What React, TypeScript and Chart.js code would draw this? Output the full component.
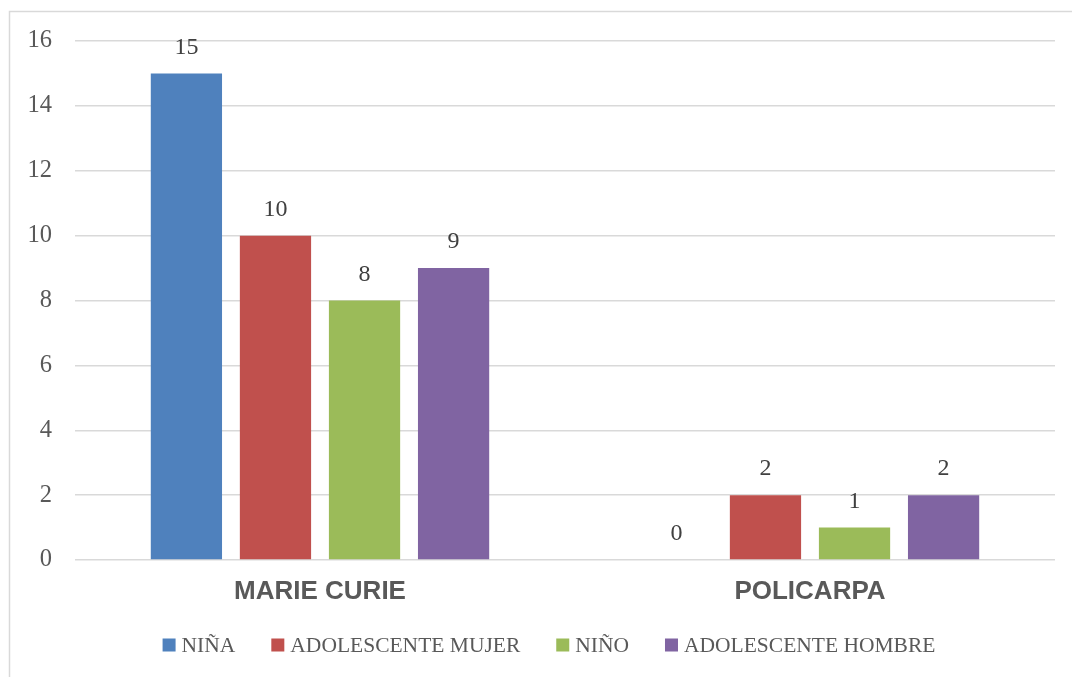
import React, { useEffect, useRef } from "react";
import { Chart, registerables } from "chart.js";

Chart.register(...registerables);

const categories = ["MARIE CURIE", "POLICARPA"];
const seriesNames = ["NIÑA", "ADOLESCENTE MUJER", "NIÑO", "ADOLESCENTE HOMBRE"];
const ninaValues = [15, 0];
const adolescenteMujerValues = [10, 2];
const ninoValues = [8, 1];
const adolescenteHombreValues = [9, 2];
const seriesColors = ["#4F81BD", "#C0504D", "#9BBB59", "#8064A2"];

const SERIF = "'Liberation Serif', 'Times New Roman', serif";
const SANS = "'Liberation Sans', Arial, sans-serif";

// Writes each bar's value above its top.
const valueLabels = {
  id: "valueLabels",
  afterDatasetsDraw(chart: any) {
    const ctx = chart.ctx;
    ctx.save();
    ctx.font = `24px ${SERIF}`;
    ctx.fillStyle = "#404040";
    ctx.textAlign = "center";
    ctx.textBaseline = "middle";
    chart.data.datasets.forEach((ds: any, i: number) => {
      const meta = chart.getDatasetMeta(i);
      meta.data.forEach((bar: any, j: number) => {
        ctx.fillText(String(ds.data[j]), bar.x, bar.y - 26);
      });
    });
    ctx.restore();
  },
};

// Legend row under the axis: square swatch, short gap, series name.
const bottomLegend = {
  id: "bottomLegend",
  afterDraw(chart: any) {
    const ctx = chart.ctx;
    const box = 13;
    const textGap = 6;
    const itemGap = 36;
    ctx.save();
    ctx.font = `21.5px ${SERIF}`;
    ctx.textBaseline = "middle";
    ctx.textAlign = "left";
    const widths = chart.data.datasets.map((ds: any) => ctx.measureText(ds.label).width);
    const total =
      widths.reduce((a: number, w: number) => a + box + textGap + w, 0) +
      itemGap * (widths.length - 1);
    const cy = chart.chartArea.bottom + 85;
    let x = (chart.chartArea.left + chart.chartArea.right) / 2 - total / 2 - 16;
    chart.data.datasets.forEach((ds: any, i: number) => {
      ctx.fillStyle = ds.backgroundColor;
      ctx.fillRect(x, cy - box / 2, box, box);
      x += box + textGap;
      ctx.fillStyle = "#595959";
      ctx.fillText(ds.label, x, cy + 1);
      x += widths[i] + itemGap;
    });
    ctx.restore();
  },
};

// Thin frame along the top and left edges of the chart.
const frame = {
  id: "frame",
  beforeDraw(chart: any) {
    const ctx = chart.ctx;
    ctx.save();
    ctx.strokeStyle = "#d9d9d9";
    ctx.lineWidth = 1.5;
    ctx.beginPath();
    ctx.moveTo(9.5, chart.height);
    ctx.lineTo(9.5, 11.5);
    ctx.lineTo(chart.width, 11.5);
    ctx.stroke();
    ctx.restore();
  },
};

export default function App() {
  const canvasRef = useRef<HTMLCanvasElement>(null);

  useEffect(() => {
    if (!canvasRef.current) return;
    const values = [ninaValues, adolescenteMujerValues, ninoValues, adolescenteHombreValues];
    const chart = new Chart(canvasRef.current, {
      type: "bar",
      data: {
        labels: categories,
        datasets: seriesNames.map((name, i) => ({
          label: name,
          data: values[i],
          backgroundColor: seriesColors[i],
          borderWidth: 0,
          categoryPercentage: 0.727,
          barPercentage: 0.8,
        })),
      },
      options: {
        animation: false,
        responsive: false,
        maintainAspectRatio: false,
        layout: { padding: { left: 20, right: 17, top: 41, bottom: 57 } },
        plugins: {
          tooltip: { enabled: false },
          legend: { display: false },
        },
        scales: {
          x: {
            grid: { display: false, drawTicks: false },
            border: { display: false },
            ticks: {
              color: "#595959",
              padding: 16,
              font: { family: SANS, size: 26, weight: "bold" },
            },
            afterFit(scale: any) {
              scale.height = 60;
            },
          },
          y: {
            min: 0,
            max: 16,
            grid: { color: "#d9d9d9", lineWidth: 1.5, drawTicks: false },
            border: { display: false },
            ticks: {
              stepSize: 2,
              color: "#595959",
              padding: 23,
              font: { family: SERIF, size: 24.5 },
            },
            afterFit(scale: any) {
              scale.width = 55;
            },
          },
        },
      },
      plugins: [frame, valueLabels, bottomLegend],
    });
    return () => chart.destroy();
  }, []);

  return (
    <div style={{ position: "fixed", left: 0, top: 0, width: 1072, height: 677, background: "#fff" }}>
      <canvas ref={canvasRef} width={1072} height={677} style={{ width: 1072, height: 677 }} />
    </div>
  );
}
